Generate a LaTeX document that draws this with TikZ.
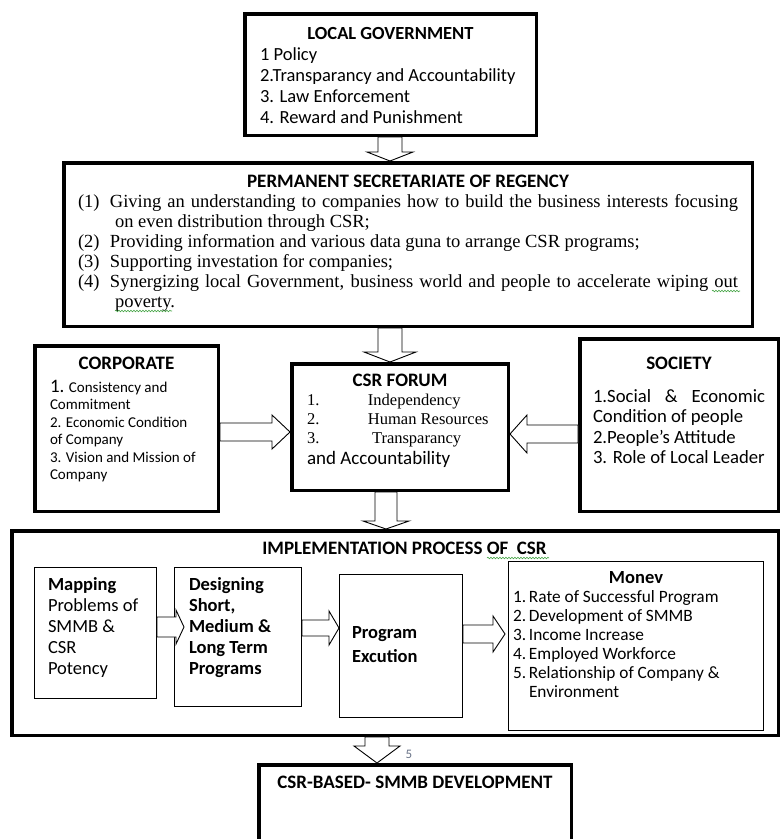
\documentclass[tikz,border=0pt]{standalone}
\usepackage{fontspec}
\setmainfont{Carlito}
\newfontfamily\tnr{Liberation Serif}
\usetikzlibrary{calc,decorations.pathmorphing}
\definecolor{numgray}{RGB}{105,115,135}
\definecolor{spellgreen}{RGB}{70,165,70}

\newcommand{\downblock}[6]{%
  \draw[blockarr] let \p3=(#1,0), \p1=(#2.south), \p2=(#3.north) in
    (\x3-#4pt,\y1) -- (\x3+#4pt,\y1) -- (\x3+#4pt,\y2+#6pt) -- (\x3+#5pt,\y2+#6pt)
    -- (\x3,\y2) -- (\x3-#5pt,\y2+#6pt) -- (\x3-#4pt,\y2+#6pt) -- cycle;}
\newcommand{\sideblock}[6]{%
  \draw[blockarr] let \p3=(0,#1), \p1=(#2), \p2=(#3) in
    (\x1,\y3-#4pt) -- (\x1,\y3+#4pt) -- ({\x2-(#6pt)},\y3+#4pt) -- ({\x2-(#6pt)},\y3+#5pt)
    -- (\x2,\y3) -- ({\x2-(#6pt)},\y3-#5pt) -- ({\x2-(#6pt)},\y3-#4pt) -- cycle;}

\begin{document}
\begin{tikzpicture}[x=1pt,y=-1pt,
        panel/.style={draw, line width=3.5pt, fill=white, inner sep=0pt, anchor=north west},
        subpanel/.style={draw, line width=1.2pt, fill=white, inner sep=0pt, anchor=north west},
        blockarr/.style={draw, fill=white, line width=0.9pt, line join=miter},
        squiggle/.style={spellgreen, line width=0.6pt, decorate, decoration={snake, segment length=3pt, amplitude=0.8pt}}]
    \useasboundingbox (0,0) rectangle (782,839);

    \node[panel, inner xsep=15.25pt, inner ysep=13.25pt] (lg) at (243,12) {\parbox[t][95pt][t]{261pt}{\raggedright\fontsize{18.5}{21}\selectfont
        {\centering\bfseries LOCAL GOVERNMENT\par}
        1 Policy\par
        2.Transparancy and Accountability\par
        3. Law Enforcement\par
        4. Reward and Punishment}};

    \node[panel, inner xsep=14.25pt, inner ysep=12pt] (psr) at (62,161) {\parbox[t][139.5pt][t]{660pt}{%
        {\centering\bfseries\fontsize{19}{20}\selectfont PERMANENT SECRETARIATE OF REGENCY\par}
        \tnr\fontsize{18.5}{20}\selectfont
        \hangindent=37pt\hangafter=1\makebox[32pt][l]{(1)}Giving an understanding to companies how to build the business interests focusing\linebreak on even distribution through CSR;\par
        \makebox[32pt][l]{(2)}Providing information and various data guna to arrange CSR programs;\par
        \makebox[32pt][l]{(3)}Supporting investation for companies;\par
        \hangindent=37pt\hangafter=1\makebox[32pt][l]{(4)}Synergizing local Government, business world and people to accelerate wiping out\linebreak poverty.}};

    \node[panel, inner xsep=15.25pt, inner ysep=11pt] (corp) at (33,344) {\parbox[t][143.5pt][t]{153pt}{\raggedright
        {\centering\bfseries\fontsize{19}{20}\selectfont CORPORATE\par}\vspace{5.5pt}
        \fontsize{15}{17.5}\selectfont
        {\fontsize{19}{17.5}\selectfont 1.} Consistency and\\Commitment\\2. Economic Condition\\of Company\\3. Vision and Mission of\\Company}};

    \node[panel, inner xsep=15.25pt, inner ysep=10pt] (forum) at (290,362) {\parbox[t][106.5pt][t]{186pt}{\raggedright
        {\centering\bfseries\fontsize{19}{20}\selectfont CSR FORUM\par}
        {\tnr\fontsize{16.5}{19}\selectfont
        \mbox{\makebox[61pt][l]{1.}Independency}\\\mbox{\makebox[61pt][l]{2.}Human Resources}\\\mbox{\makebox[65pt][l]{3.}Transparancy}\par}
        \fontsize{19}{21}\selectfont and Accountability}};

    \node[panel, inner xsep=13.25pt, inner ysep=18pt] (soc) at (578,337) {\parbox[t][136.5pt][t]{172pt}{\raggedright
        {\centering\bfseries\fontsize{19}{20}\selectfont SOCIETY\par}\vspace{12.5pt}
        \fontsize{18.7}{20.5}\selectfont
        \hbox to \linewidth{1.Social\hfill\&\hfill Economic}
        Condition of people\\2.People’s Attitude\\3. Role of Local Leader}};

    \node[panel, inner xsep=10pt, inner ysep=11pt] (impl) at (10,529) {\parbox[t][182.5pt][t]{746.5pt}{\centering\bfseries\fontsize{19}{20}\selectfont
        \hspace*{19pt}IMPLEMENTATION PROCESS OF\ \ CSR}};

    \node[subpanel, inner xsep=13.4pt, inner ysep=10.4pt] (map) at (34,567) {\parbox[t][110pt][t]{95pt}{\raggedright\fontsize{18.5}{21}\selectfont
        \textbf{Mapping}\\Problems of\\SMMB \&\\CSR\\Potency}};
    \node[subpanel, inner xsep=14.4pt, inner ysep=10.4pt] (des) at (174,567) {\parbox[t][118pt][t]{98pt}{\raggedright\bfseries\fontsize{18.5}{21}\selectfont
        Designing\\Short,\\Medium \&\\Long Term\\Programs}};
    \node[subpanel, inner xsep=12.4pt, inner ysep=51.4pt] (prog) at (339,574) {\parbox[t][40pt][t]{98pt}{\raggedright\bfseries\fontsize{18.5}{24}\selectfont
        Program\\Excution}};
    \node[subpanel, inner xsep=4.4pt, inner ysep=9.4pt] (monev) at (508,561) {\parbox[t][150pt][t]{246pt}{\raggedright
        {\centering\bfseries\fontsize{18.5}{19}\selectfont Monev\par}
        \fontsize{17.3}{19}\selectfont
        \makebox[16pt][l]{1.}Rate of Successful Program\par
        \makebox[16pt][l]{2.}Development of SMMB\par
        \makebox[16pt][l]{3.}Income Increase\par
        \makebox[16pt][l]{4.}Employed Workforce\par
        \hangindent=16pt\hangafter=1\makebox[16pt][l]{5.}Relationship of Company \&\newline Environment}};

    \node[panel, inner xsep=10pt, inner ysep=11pt] (smmb) at (257,763) {\parbox[t][61.5pt][t]{292.5pt}{\centering\bfseries\fontsize{19}{20}\selectfont
        CSR-BASED- SMMB DEVELOPMENT}};

    \node[text=numgray, font=\fontsize{13}{13}\selectfont] (pageno) at (409,754) {5};

    \downblock{390}{lg}{psr}{12}{23}{9}
    \downblock{390}{psr}{forum}{12}{26}{10}
    \downblock{386}{forum}{impl}{11}{23}{8}
    \downblock{377}{impl}{smmb}{12}{23}{17}
    \sideblock{432}{corp.east}{forum.west}{9}{17}{18}
    \sideblock{434}{soc.west}{forum.east}{9}{19}{-17}
    \sideblock{627}{map.east}{$(des.west)+(10,0)$}{10}{17}{8}
    \sideblock{628}{des.east}{prog.west}{8}{17}{10}
    \sideblock{634}{prog.east}{$(monev.west)+(-3,0)$}{9}{18}{12}

    \draw[squiggle] (712,291) -- (740,291);
    \draw[squiggle] (115,311) -- (172,311);
    \draw[squiggle] (487,558) -- (549,558);
\end{tikzpicture}
\end{document}
